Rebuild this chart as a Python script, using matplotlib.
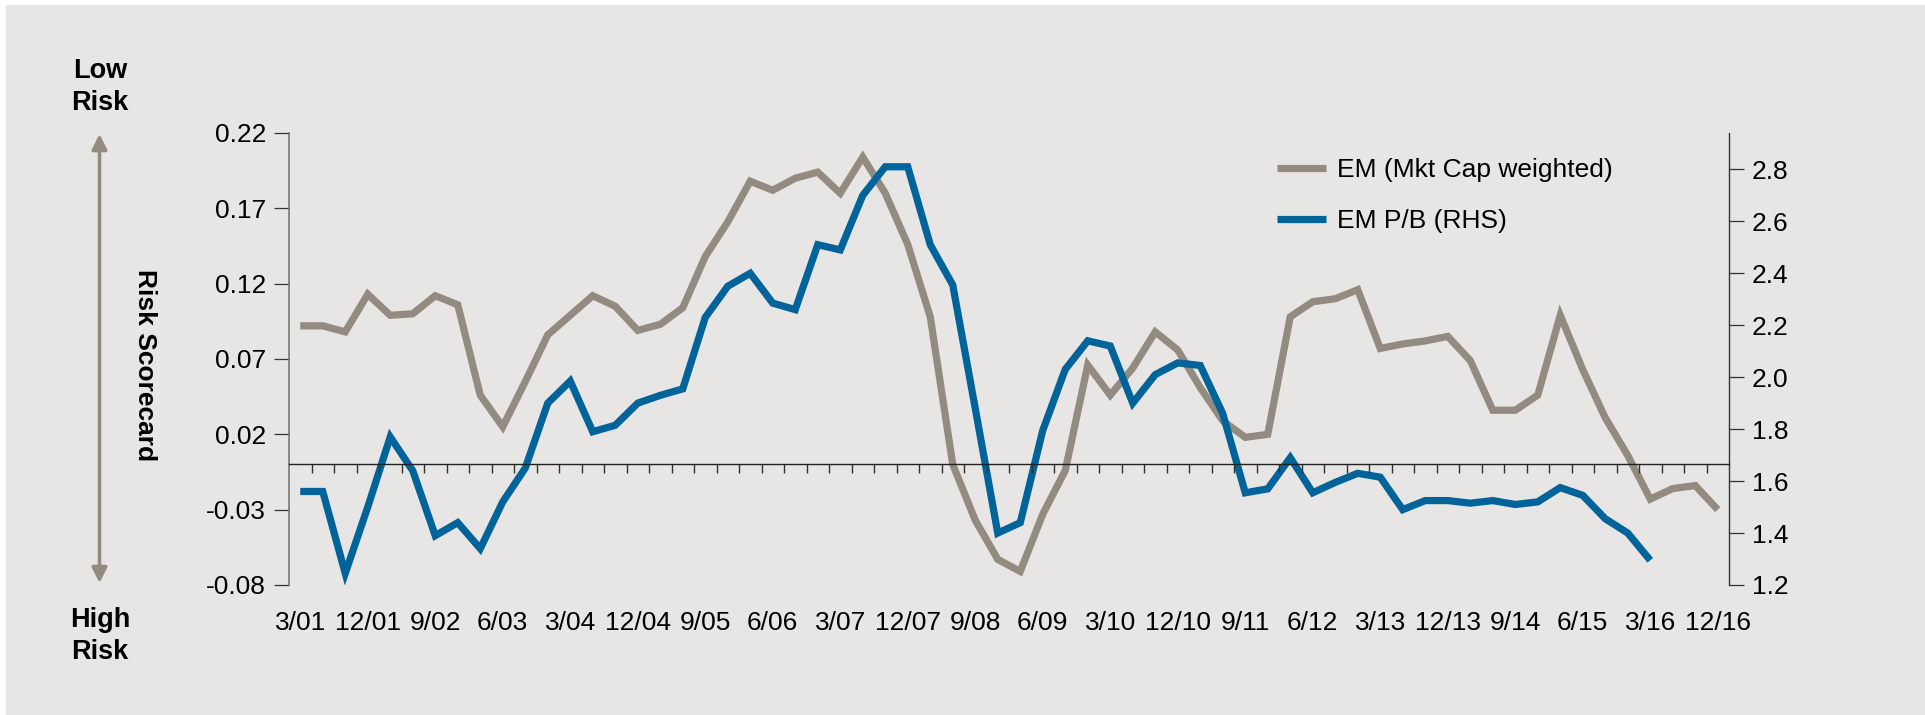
import matplotlib
matplotlib.use("Agg")
import matplotlib.pyplot as plt
from matplotlib.patches import Rectangle, FancyArrowPatch
import numpy as np

# ---- data -------------------------------------------------------------
quarter_labels = ["3/01", "12/01", "9/02", "6/03", "3/04", "12/04", "9/05",
                  "6/06", "3/07", "12/07", "9/08", "6/09", "3/10", "12/10",
                  "9/11", "6/12", "3/13", "12/13", "9/14", "6/15", "3/16",
                  "12/16"]
n_quarters = 64          # quarterly observations 3/01 .. 12/16
label_step = 3           # one date label every third quarter

em_mktcap = [0.092, 0.092, 0.088, 0.113, 0.099, 0.100, 0.112, 0.106,
             0.046, 0.025, 0.055, 0.086, 0.099, 0.112, 0.105, 0.089,
             0.093, 0.104, 0.138, 0.161, 0.188, 0.182, 0.190, 0.194,
             0.180, 0.204, 0.180, 0.146, 0.098, 0.000, -0.037, -0.063,
             -0.071, -0.033, -0.004, 0.066, 0.046, 0.064, 0.088, 0.076,
             0.051, 0.029, 0.018, 0.020, 0.098, 0.108, 0.110, 0.116,
             0.077, 0.080, 0.082, 0.085, 0.069, 0.036, 0.036, 0.046,
             0.099, 0.063, 0.031, 0.006, -0.023, -0.016, -0.014, -0.030]

em_pb = [1.56, 1.56, 1.245, 1.50, 1.77, 1.64, 1.39, 1.44, 1.34, 1.52,
         1.65, 1.90, 1.985, 1.79, 1.815, 1.90, 1.93, 1.955, 2.23, 2.35,
         2.40, 2.285, 2.26, 2.51, 2.49, 2.70, 2.81, 2.81, 2.51, 2.355,
         1.88, 1.40, 1.44, 1.795, 2.03, 2.14, 2.12, 1.90, 2.01, 2.055,
         2.045, 1.86, 1.555, 1.57, 1.69, 1.555, 1.595, 1.63, 1.615, 1.49,
         1.525, 1.525, 1.515, 1.525, 1.51, 1.52, 1.575, 1.545, 1.455, 1.40,
         1.295]

left_ticks = [-0.08, -0.03, 0.02, 0.07, 0.12, 0.17, 0.22]
left_tick_labels = ["-0.08", "-0.03", "0.02", "0.07", "0.12", "0.17", "0.22"]
right_ticks = [1.2, 1.4, 1.6, 1.8, 2.0, 2.2, 2.4, 2.6, 2.8]
right_tick_labels = ["1.2", "1.4", "1.6", "1.8", "2.0", "2.2", "2.4", "2.6", "2.8"]
left_range = (-0.08, 0.22)
right_range = (1.2, 2.94)

series_names = ["EM (Mkt Cap weighted)", "EM P/B (RHS)"]

# ---- style ------------------------------------------------------------
BG = "#e8e6e4"
GREY = "#948b80"
BLUE = "#00639a"
FONT = ["Liberation Sans", "DejaVu Sans"]
plt.rcParams["font.family"] = FONT
LW = 5.2
TICK_FS = 19

W, H = 1925, 715
fig = plt.figure(figsize=(W / 100, H / 100), dpi=100, facecolor="white")
fig.add_artist(Rectangle((6 / W, 0), 1 - 6 / W, 1 - 5 / H,
                         transform=fig.transFigure, facecolor=BG,
                         edgecolor="none", zorder=-10))

pos = [289 / W, 130 / H, 1440 / W, 452 / H]
ax = fig.add_axes(pos)
ax.set_facecolor("none")
x = np.arange(n_quarters)

ax.plot(x[:len(em_mktcap)], em_mktcap, color=GREY, lw=LW,
        solid_joinstyle="miter", solid_capstyle="butt",
        label=series_names[0])
ax.set_xlim(-0.5, n_quarters - 0.5)
ax.set_ylim(*left_range)
ax.set_yticks(left_ticks)
ax.set_yticklabels(left_tick_labels)

label_pos = np.arange(0, n_quarters, label_step)
ax.set_xticks(label_pos)
ax.set_xticklabels(quarter_labels)
ax.tick_params(axis="x", length=0, pad=19, labelsize=TICK_FS)
ax.tick_params(axis="y", direction="out", length=10.5, width=0.9,
               color="#333333", pad=6, labelsize=TICK_FS)
for s in ("top", "right", "bottom"):
    ax.spines[s].set_visible(False)
ax.spines["left"].set_color("#6f6f6f")
ax.spines["left"].set_linewidth(1.1)

ax2 = ax.twinx()
ax2.plot(x[:len(em_pb)], em_pb, color=BLUE, lw=LW,
         solid_joinstyle="miter", solid_capstyle="butt",
         label=series_names[1])
ax2.set_ylim(*right_range)
ax2.set_yticks(right_ticks)
ax2.set_yticklabels(right_tick_labels)
ax2.tick_params(axis="y", direction="out", length=10.5, width=0.9,
                color="#333333", pad=6, labelsize=TICK_FS)
for s in ("top", "left", "bottom"):
    ax2.spines[s].set_visible(False)
ax2.spines["right"].set_color("#333333")
ax2.spines["right"].set_linewidth(1.0)

# zero line with quarter separators, drawn above both series
ax0 = fig.add_axes(pos)
ax0.patch.set_visible(False)
ax0.set_xlim(-0.5, n_quarters - 0.5)
ax0.set_ylim(*left_range)
for s in ("top", "left", "right"):
    ax0.spines[s].set_visible(False)
ax0.spines["bottom"].set_position(("data", 0))
ax0.spines["bottom"].set_color("#222222")
ax0.spines["bottom"].set_linewidth(1.0)
ax0.set_xticks(np.arange(0.5, n_quarters - 0.5, 1.0))
ax0.tick_params(axis="x", direction="out", length=6.5, width=1.0,
                color="#333333", labelbottom=False)
ax0.set_yticks([])

# legend
handles = ax.get_lines() + ax2.get_lines()
fig.legend(handles, [h.get_label() for h in handles], loc="upper left",
           bbox_to_anchor=(1277 / W, 1 - 158 / H), frameon=False,
           fontsize=19, handlelength=1.85, handletextpad=0.42,
           labelspacing=1.03, borderpad=0, borderaxespad=0)

# risk direction annotation on the left
fig.text(100 / W, 1 - 87 / H, "Low\nRisk", ha="center", va="center",
         fontsize=19.5, fontweight="bold", linespacing=1.3)
fig.text(100 / W, 1 - 636 / H, "High\nRisk", ha="center", va="center",
         fontsize=19.5, fontweight="bold", linespacing=1.3)
fig.text(145 / W, 1 - 365 / H, "Risk Scorecard", ha="center", va="center",
         rotation=-90, fontsize=19, fontweight="bold")
fig.add_artist(FancyArrowPatch((99.5 / W, 1 - 583 / H), (99.5 / W, 1 - 134 / H),
                               transform=fig.transFigure,
                               arrowstyle="<|-|>,head_length=9,head_width=4.5",
                               color=GREY, lw=2.6, shrinkA=0, shrinkB=0))

fig.savefig("out.png", dpi=100, facecolor=fig.get_facecolor())
